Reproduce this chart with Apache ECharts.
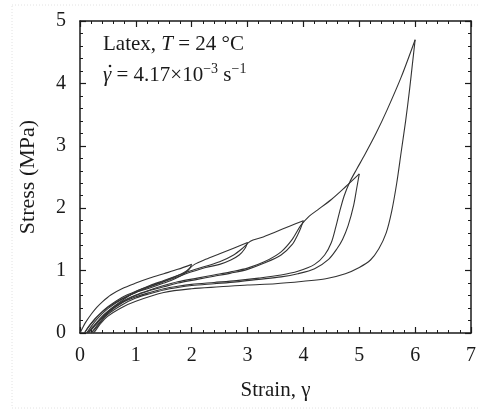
<!DOCTYPE html>
<html>
<head>
<meta charset="utf-8">
<script src="https://cdn.jsdelivr.net/npm/echarts@6/dist/echarts.min.js"></script>
<style>
  html, body { margin: 0; padding: 0; background: #ffffff; }
  #chart { width: 479px; height: 413px; }
</style>
</head>
<body>
<div id="chart"></div>
<script>
// Axis ticks
const xTicks = [0, 1, 2, 3, 4, 5, 6, 7];
const yTicks = [0, 1, 2, 3, 4, 5];

// Curves [strain, stress (MPa)]
const loading1 = [[0,0],[0.05,0.09],[0.1,0.17],[0.2,0.3],[0.3,0.41],[0.4,0.5],[0.55,0.61],[0.75,0.71],[1,0.8],[1.25,0.88],[1.5,0.95],[1.75,1.02],[2,1.1]];
const unloading2 = [[2,1.1],[1.95,1.02],[1.85,0.94],[1.7,0.87],[1.5,0.8],[1.25,0.72],[1,0.65],[0.75,0.55],[0.5,0.41],[0.3,0.26],[0.15,0.1],[0.08,0]];
const reloading3 = [[0.08,0],[0.2,0.15],[0.35,0.3],[0.5,0.42],[0.75,0.57],[1,0.67],[1.25,0.75],[1.5,0.83],[1.75,0.92],[1.9,0.99],[2.05,1.1],[2.25,1.18],[2.5,1.27],[2.75,1.36],[3,1.45]];
const unloading3 = [[3,1.45],[2.95,1.35],[2.85,1.25],[2.7,1.17],[2.5,1.1],[2.25,1.05],[2,0.98],[1.75,0.9],[1.5,0.82],[1.25,0.74],[1,0.65],[0.75,0.54],[0.5,0.39],[0.3,0.22],[0.18,0.08],[0.12,0]];
const reloading4 = [[0.12,0],[0.25,0.12],[0.4,0.27],[0.6,0.42],[0.8,0.55],[1,0.66],[1.25,0.76],[1.5,0.84],[1.75,0.92],[2,1.0],[2.25,1.07],[2.5,1.14],[2.75,1.25],[2.9,1.35],[3.05,1.47],[3.25,1.53],[3.5,1.62],[3.75,1.71],[4,1.8]];
const unloading4 = [[4,1.8],[3.95,1.68],[3.9,1.58],[3.8,1.42],[3.6,1.25],[3.3,1.12],[3,1.02],[2.7,0.96],[2.4,0.91],[2.1,0.86],[1.75,0.8],[1.5,0.74],[1.25,0.68],[1,0.6],[0.75,0.49],[0.5,0.33],[0.3,0.16],[0.2,0.05],[0.15,0]];
const reloading5 = [[0.15,0],[0.3,0.15],[0.5,0.34],[0.75,0.5],[1,0.61],[1.25,0.69],[1.5,0.76],[1.75,0.82],[2.1,0.88],[2.4,0.93],[2.7,0.98],[3,1.04],[3.3,1.14],[3.6,1.3],[3.8,1.5],[3.95,1.72],[4.1,1.87],[4.25,1.97],[4.5,2.14],[4.75,2.34],[5,2.55]];
const unloading5 = [[5,2.55],[4.95,2.3],[4.9,2.05],[4.8,1.72],[4.7,1.5],[4.6,1.35],[4.45,1.18],[4.2,1.03],[3.9,0.95],[3.6,0.9],[3.2,0.86],[2.8,0.82],[2.4,0.79],[2,0.76],[1.75,0.73],[1.5,0.69],[1.25,0.63],[1,0.56],[0.75,0.45],[0.5,0.3],[0.35,0.15],[0.25,0.04],[0.2,0]];
const reloading6 = [[0.2,0],[0.35,0.17],[0.5,0.32],[0.75,0.48],[1,0.58],[1.25,0.65],[1.5,0.71],[1.75,0.75],[2,0.78],[2.4,0.81],[2.8,0.84],[3.2,0.88],[3.6,0.93],[3.9,0.99],[4.2,1.1],[4.38,1.25],[4.5,1.45],[4.58,1.7],[4.65,1.95],[4.73,2.2],[4.83,2.42],[4.95,2.62],[5.1,2.86],[5.3,3.2],[5.5,3.58],[5.75,4.1],[6,4.7]];
const unloading6 = [[6,4.7],[5.95,4.3],[5.9,3.9],[5.83,3.4],[5.75,2.9],[5.67,2.4],[5.58,1.95],[5.48,1.6],[5.35,1.35],[5.2,1.17],[5,1.05],[4.75,0.95],[4.4,0.87],[4,0.83],[3.5,0.79],[3,0.77],[2.5,0.74],[2,0.71],[1.5,0.65],[1,0.51],[0.75,0.41],[0.5,0.27],[0.35,0.13],[0.27,0.03],[0.24,0]];

const curves = [loading1, unloading2, reloading3, unloading3, reloading4, unloading4, reloading5, unloading5, reloading6, unloading6];

const serif = "'Liberation Serif', 'Times New Roman', serif";
const ink = '#1a1a1a';

const chart = echarts.init(document.getElementById('chart'), null, { renderer: 'canvas' });

function axisCommon(showLabels) {
  return {
    axisLine: { show: true, onZero: false, lineStyle: { color: ink, width: 1.5 } },
    axisTick: { show: true, inside: true, length: 6, lineStyle: { color: ink, width: 1.2 } },
    minorTick: { show: true, splitNumber: 5, length: 3, lineStyle: { color: ink, width: 1 } },
    splitLine: { show: false },
    minorSplitLine: { show: false },
    axisLabel: showLabels
      ? { show: true, fontFamily: serif, fontSize: 20, color: ink }
      : { show: false }
  };
}

const option = {
  animation: false,
  backgroundColor: '#ffffff',
  grid: { left: 80, right: 5, top: 21, bottom: 80, containLabel: false },
  xAxis: [
    Object.assign({
      type: 'value', position: 'bottom', min: xTicks[0], max: xTicks[xTicks.length - 1], interval: 1,
      name: 'Strain, γ', nameLocation: 'middle', nameGap: 47,
      nameTextStyle: { fontFamily: serif, fontSize: 21, color: ink }
    }, axisCommon(true), { axisLabel: { show: true, fontFamily: serif, fontSize: 20, color: ink, margin: 13 } }),
    Object.assign({
      type: 'value', position: 'top', min: xTicks[0], max: xTicks[xTicks.length - 1], interval: 1
    }, axisCommon(false))
  ],
  yAxis: [
    Object.assign({
      type: 'value', position: 'left', min: yTicks[0], max: yTicks[yTicks.length - 1], interval: 1,
      name: 'Stress (MPa)', nameLocation: 'middle', nameGap: 41, nameRotate: 90,
      nameTextStyle: { fontFamily: serif, fontSize: 22, color: ink }
    }, axisCommon(true), { axisLabel: { show: true, fontFamily: serif, fontSize: 20, color: ink, margin: 14 } }),
    Object.assign({
      type: 'value', position: 'right', min: yTicks[0], max: yTicks[yTicks.length - 1], interval: 1
    }, axisCommon(false))
  ],
  series: curves.map(function (c) {
    return {
      type: 'line',
      xAxisIndex: 0,
      yAxisIndex: 0,
      data: c,
      showSymbol: false,
      symbol: 'none',
      smooth: 0.3,
      lineStyle: { color: '#333333', width: 1.1 },
      silent: true
    };
  }),
  graphic: [
    {
      type: 'rect',
      silent: true,
      z: -10,
      shape: { x: 12, y: 5, width: 480, height: 403 },
      style: { fill: 'none', stroke: '#e2e2e2', lineWidth: 1, lineDash: [1, 2] }
    },
    {
      type: 'text',
      left: 103,
      top: 34,
      style: {
        text: '{r|Latex, }{i|T}{r| = 24 °C}',
        rich: {
          r: { fontFamily: serif, fontSize: 21, fill: ink, lineHeight: 26 },
          i: { fontFamily: serif, fontSize: 21, fontStyle: 'italic', fill: ink, lineHeight: 26 }
        }
      }
    },
    {
      type: 'text',
      left: 103,
      top: 62,
      style: {
        text: '{i|γ}{r| = 4.17×10}{s|−3}{r| s}{s|−1}',
        rich: {
          r: { fontFamily: serif, fontSize: 21, fill: ink, lineHeight: 26 },
          i: { fontFamily: serif, fontSize: 21, fontStyle: 'italic', fill: ink, lineHeight: 26 },
          s: { fontFamily: serif, fontSize: 14, fill: ink, lineHeight: 14, verticalAlign: 'top' }
        }
      }
    },
    {
      type: 'circle',
      silent: true,
      shape: { cx: 110, cy: 66, r: 1.3 },
      style: { fill: ink }
    }
  ]
};

chart.setOption(option);
</script>
</body>
</html>
